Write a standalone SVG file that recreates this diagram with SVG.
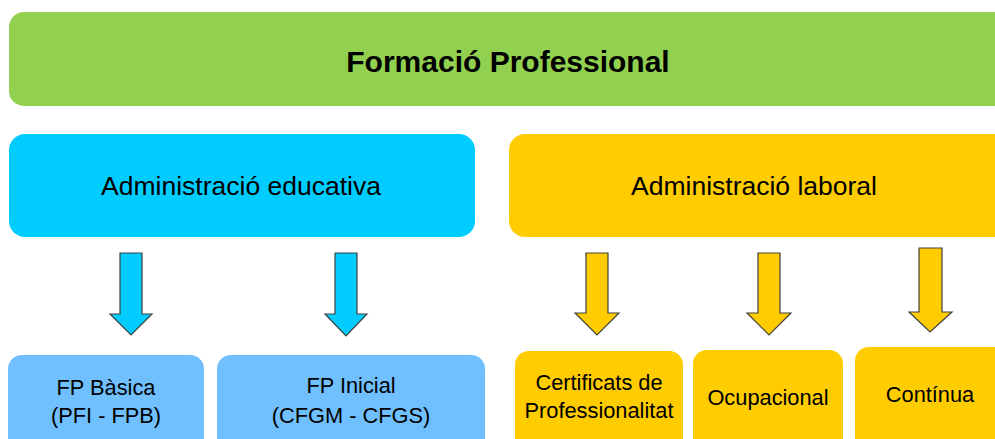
<svg xmlns="http://www.w3.org/2000/svg" width="995" height="439" viewBox="0 0 995 439">
<style>
.t{font-family:"Liberation Sans",Arial,sans-serif;fill:#000;text-anchor:middle}
.h{font-size:30px;font-weight:bold}
.m{font-size:26.5px}
.s{font-size:21.8px}
.green{fill:#92D050}
.cyan{fill:#00CCFF}
.yel{fill:#FFCC00}
.lb{fill:#70BFFF}
.arr{stroke:#404040;stroke-width:1.2;stroke-linejoin:miter}
</style>
<rect width="995" height="439" fill="#fff"/>
<g id="formacio">
<rect class="green" x="9" y="12" width="1010" height="94" rx="15"/>
<text class="t h" x="508" y="72">Formació Professional</text>
</g>
<g id="educativa">
<rect class="cyan" x="9" y="134" width="466" height="103" rx="16"/>
<text class="t m" x="241" y="195">Administració educativa</text>
</g>
<g id="laboral">
<rect class="yel" x="509" y="134" width="510" height="103" rx="16"/>
<text class="t m" x="754" y="195">Administració laboral</text>
</g>
<g id="connectors">
<polygon class="cyan arr" points="120,253 142,253 142,314 152,314 131,335 110,314 120,314"/>
<polygon class="cyan arr" points="335,253 357,253 357,314 367,314 346,336 325,314 335,314"/>
<polygon class="yel arr" points="586,253 608,253 608,313 619,313 597,335 575,313 586,313"/>
<polygon class="yel arr" points="758,253 780,253 780,313 791,313 769,335 747,313 758,313"/>
<polygon class="yel arr" points="919,248 942,248 942,312 952,312 930,332 909,312 919,312"/>
</g>
<g id="basica">
<rect class="lb" x="8" y="355" width="196" height="110" rx="14"/>
<text class="t s" x="106" y="395">FP Bàsica</text>
<text class="t s" x="106" y="423">(PFI - FPB)</text>
</g>
<g id="inicial">
<rect class="lb" x="217" y="355" width="268" height="110" rx="14"/>
<text class="t s" x="351" y="393">FP Inicial</text>
<text class="t s" x="351" y="423">(CFGM - CFGS)</text>
</g>
<g id="certificats">
<rect class="yel" x="515" y="351" width="168" height="110" rx="14"/>
<text class="t s" x="599" y="390">Certificats de</text>
<text class="t s" x="599" y="418">Professionalitat</text>
</g>
<g id="ocupacional">
<rect class="yel" x="693" y="350" width="150" height="110" rx="14"/>
<text class="t s" x="768" y="405">Ocupacional</text>
</g>
<g id="continua">
<rect class="yel" x="855" y="347" width="160" height="110" rx="14"/>
<text class="t s" x="930" y="402">Contínua</text>
</g>
</svg>
